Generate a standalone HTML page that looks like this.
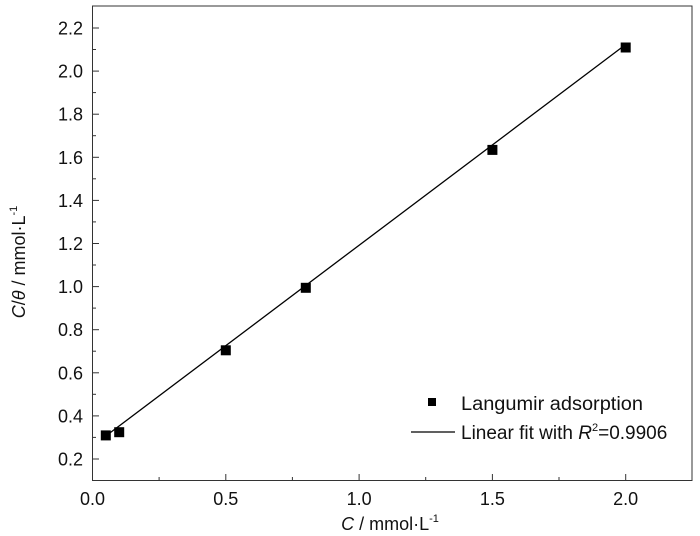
<!DOCTYPE html>
<html><head><style>body{margin:0;background:#fff}svg{display:block}text{font-family:"Liberation Sans",Arial,sans-serif;fill:#111}</style></head><body>
<svg width="700" height="536" viewBox="0 0 700 536" xmlns="http://www.w3.org/2000/svg">
<rect x="92.5" y="6" width="599.5" height="474.5" fill="none" stroke="#333" stroke-width="1"/>
<g stroke="#333" stroke-width="1">
<line x1="92.5" y1="480.5" x2="92.5" y2="474"/>
<line x1="159.1" y1="480.5" x2="159.1" y2="477"/>
<line x1="225.8" y1="480.5" x2="225.8" y2="474"/>
<line x1="292.4" y1="480.5" x2="292.4" y2="477"/>
<line x1="359.1" y1="480.5" x2="359.1" y2="474"/>
<line x1="425.7" y1="480.5" x2="425.7" y2="477"/>
<line x1="492.4" y1="480.5" x2="492.4" y2="474"/>
<line x1="559" y1="480.5" x2="559" y2="477"/>
<line x1="625.7" y1="480.5" x2="625.7" y2="474"/>
<line x1="92.5" y1="459" x2="99" y2="459"/>
<line x1="92.5" y1="437.4" x2="96" y2="437.4"/>
<line x1="92.5" y1="415.9" x2="99" y2="415.9"/>
<line x1="92.5" y1="394.3" x2="96" y2="394.3"/>
<line x1="92.5" y1="372.8" x2="99" y2="372.8"/>
<line x1="92.5" y1="351.2" x2="96" y2="351.2"/>
<line x1="92.5" y1="329.7" x2="99" y2="329.7"/>
<line x1="92.5" y1="308.1" x2="96" y2="308.1"/>
<line x1="92.5" y1="286.6" x2="99" y2="286.6"/>
<line x1="92.5" y1="265" x2="96" y2="265"/>
<line x1="92.5" y1="243.5" x2="99" y2="243.5"/>
<line x1="92.5" y1="221.9" x2="96" y2="221.9"/>
<line x1="92.5" y1="200.4" x2="99" y2="200.4"/>
<line x1="92.5" y1="178.8" x2="96" y2="178.8"/>
<line x1="92.5" y1="157.3" x2="99" y2="157.3"/>
<line x1="92.5" y1="135.7" x2="96" y2="135.7"/>
<line x1="92.5" y1="114.2" x2="99" y2="114.2"/>
<line x1="92.5" y1="92.6" x2="96" y2="92.6"/>
<line x1="92.5" y1="71.1" x2="99" y2="71.1"/>
<line x1="92.5" y1="49.5" x2="96" y2="49.5"/>
<line x1="92.5" y1="28" x2="99" y2="28"/>
</g>
<g font-size="18" text-anchor="end">
<text x="83" y="465.5">0.2</text><text x="83" y="422.5">0.4</text><text x="83" y="379.5">0.6</text><text x="83" y="336">0.8</text><text x="83" y="293">1.0</text><text x="83" y="250">1.2</text><text x="83" y="207">1.4</text><text x="83" y="164">1.6</text><text x="83" y="120.5">1.8</text><text x="83" y="77.5">2.0</text><text x="83" y="34.5">2.2</text>
</g>
<g font-size="18" text-anchor="middle">
<text x="92.5" y="505">0.0</text><text x="225.8" y="505">0.5</text><text x="359.1" y="505">1.0</text><text x="492.4" y="505">1.5</text><text x="625.7" y="505">2.0</text>
</g>
<text x="390" y="530" font-size="18" text-anchor="middle"><tspan font-style="italic">C</tspan> / mmol·L<tspan font-size="11" dy="-8">-1</tspan></text>
<text transform="translate(25,262) rotate(-90)" font-size="18" text-anchor="middle"><tspan font-style="italic">C</tspan>/<tspan font-style="italic">θ</tspan> / mmol·L<tspan font-size="11" dy="-8">-1</tspan></text>
<line x1="105.8" y1="436" x2="625.7" y2="44.5" stroke="#000" stroke-width="1.3"/>
<g fill="#000">
<rect x="100.8" y="430.4" width="10" height="10"/>
<rect x="114.2" y="427.2" width="10" height="10"/>
<rect x="220.8" y="345.3" width="10" height="10"/>
<rect x="300.8" y="282.8" width="10" height="10"/>
<rect x="487.4" y="144.9" width="10" height="10"/>
<rect x="620.7" y="42.5" width="10" height="10"/>
<rect x="428" y="398" width="8" height="8"/>
</g>
<line x1="411" y1="432" x2="455" y2="432" stroke="#000" stroke-width="1.2"/>
<text x="461" y="410" font-size="19" textLength="182" lengthAdjust="spacingAndGlyphs">Langumir adsorption</text>
<text x="461" y="439" font-size="19">Linear fit with <tspan font-style="italic">R</tspan><tspan font-size="11" dy="-8">2</tspan><tspan dy="8">=0.9906</tspan></text>
</svg>
</body></html>
